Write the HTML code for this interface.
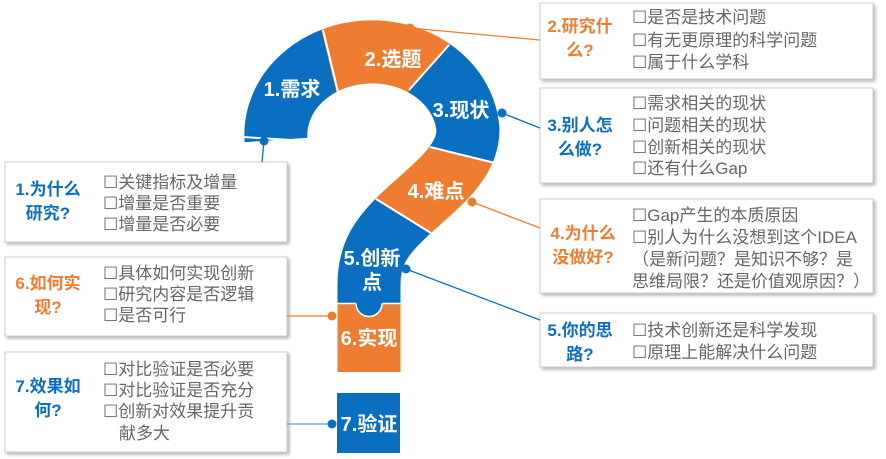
<!DOCTYPE html>
<html><head><meta charset="utf-8"><style>
html,body{margin:0;padding:0;background:#fff;width:886px;height:459px;overflow:hidden}
svg{display:block}
text{font-family:"Liberation Sans","Noto Sans CJK SC",sans-serif}
.it{font-size:17px;fill:#666}
.tb{font-size:17px;font-weight:bold;fill:#0a6fc0}
.to{font-size:17px;font-weight:bold;fill:#ee7d31}
.sl{font-size:20px;font-weight:bold;fill:#fff}
</style></head><body>
<svg width="886" height="459" viewBox="0 0 886 459">
<defs>
<filter id="sh" x="-5%" y="-5%" width="115%" height="120%"><feDropShadow dx="2" dy="2" stdDeviation="1.5" flood-color="#000" flood-opacity="0.3"/></filter>
<mask id="band" maskUnits="userSpaceOnUse" x="0" y="0" width="886" height="459">
<path d="M276,140 A96,83 0 0 1 468,130 C468,165 430,190 403,216 C380,238 369,255 369,285 L369,372" stroke="#fff" stroke-width="63" fill="none"/>
</mask>
</defs>
<g fill="#fff" stroke="#cfcfcf" stroke-width="1" filter="url(#sh)">
<rect x="540" y="3" width="333" height="76"/>
<rect x="540" y="88" width="333" height="95"/>
<rect x="540" y="199" width="333" height="94"/>
<rect x="540" y="313" width="333" height="54"/>
<rect x="5" y="162" width="282" height="80"/>
<rect x="5" y="257" width="282" height="79"/>
<rect x="5" y="352" width="282" height="100"/>
</g>
<g stroke-width="1.3" fill="none">
<line x1="410" y1="28" x2="540" y2="40" stroke="#ee7d31"/>
<line x1="502" y1="113" x2="540" y2="128" stroke="#0a6fc0"/>
<line x1="264" y1="141" x2="262" y2="162" stroke="#0a6fc0"/>
<line x1="472" y1="202" x2="540" y2="228" stroke="#ee7d31"/>
<line x1="406" y1="269" x2="540" y2="320" stroke="#0a6fc0"/>
<line x1="332" y1="316" x2="287" y2="316" stroke="#ee7d31"/>
<line x1="332" y1="424" x2="287" y2="424" stroke="#5b9bd5"/>
</g>
<g mask="url(#band)">
<rect x="200" y="0" width="400" height="400" fill="#0a6fc0"/>
<polygon points="314,0 342,115 388,115 490,0" fill="#ee7d31"/>
<polygon points="560,178 410,142 350,185 460,248 560,248" fill="#ee7d31"/>
<rect x="320" y="303" width="100" height="70" fill="#ee7d31"/>
</g>
<g stroke="#fff" stroke-width="2">
<line x1="323" y1="30" x2="338" y2="92"/>
<line x1="449" y1="45" x2="409" y2="90"/>
<line x1="499" y1="164" x2="430" y2="147"/>
<line x1="376" y1="199" x2="431" y2="233"/>
<line x1="242" y1="137" x2="308" y2="141"/>
</g>
<path d="M356,303 A13,13 0 0 0 382,303 Z" fill="#0a6fc0"/>
<path d="M356,303.5 A13,13 0 0 0 382,303.5" fill="none" stroke="#fff" stroke-width="1.5"/>
<line x1="337" y1="303.5" x2="356" y2="303.5" stroke="#fff" stroke-width="1.5"/>
<line x1="382" y1="303.5" x2="401" y2="303.5" stroke="#fff" stroke-width="1.5"/>
<rect x="337" y="393" width="63" height="60" fill="#0a6fc0"/>
<g>
<circle cx="410" cy="28" r="4.5" fill="#ee7d31"/>
<circle cx="502" cy="113" r="4.5" fill="#0a6fc0"/>
<circle cx="264" cy="141" r="4.5" fill="#0a6fc0"/>
<circle cx="472" cy="202" r="4.5" fill="#ee7d31"/>
<circle cx="406" cy="269" r="4.5" fill="#0a6fc0"/>
<circle cx="332" cy="316" r="4.5" fill="#ee7d31"/>
<circle cx="332" cy="424" r="4.5" fill="#0a6fc0"/>
</g>
<text class="sl" x="292" y="96" text-anchor="middle">1.需求</text>
<text class="sl" x="393" y="66" text-anchor="middle">2.选题</text>
<text class="sl" x="461" y="117" text-anchor="middle">3.现状</text>
<text class="sl" x="436" y="198" text-anchor="middle">4.难点</text>
<text class="sl" x="372" y="265" text-anchor="middle">5.创新</text>
<text class="sl" x="372" y="289" text-anchor="middle">点</text>
<text class="sl" x="369" y="345" text-anchor="middle">6.实现</text>
<text class="sl" x="369" y="431" text-anchor="middle">7.验证</text>
<text class="to" x="580" y="32" text-anchor="middle">2.研究什</text>
<text class="to" x="580" y="56" text-anchor="middle">么?</text>
<text class="tb" x="580" y="131" text-anchor="middle">3.别人怎</text>
<text class="tb" x="580" y="155" text-anchor="middle">么做?</text>
<text class="to" x="583" y="239" text-anchor="middle">4.为什么</text>
<text class="to" x="583" y="263" text-anchor="middle">没做好?</text>
<text class="tb" x="580" y="336" text-anchor="middle">5.你的思</text>
<text class="tb" x="580" y="360" text-anchor="middle">路?</text>
<text class="tb" x="48" y="195" text-anchor="middle">1.为什么</text>
<text class="tb" x="48" y="219" text-anchor="middle">研究?</text>
<text class="to" x="48" y="289" text-anchor="middle">6.如何实</text>
<text class="to" x="48" y="313" text-anchor="middle">现?</text>
<text class="tb" x="48" y="392" text-anchor="middle">7.效果如</text>
<text class="tb" x="48" y="416" text-anchor="middle">何?</text>
<g class="it">
<text x="632" y="23">☐是否是技术问题</text>
<text x="632" y="46">☐有无更原理的科学问题</text>
<text x="632" y="68">☐属于什么学科</text>
<text x="632" y="109">☐需求相关的现状</text>
<text x="632" y="131">☐问题相关的现状</text>
<text x="632" y="153">☐创新相关的现状</text>
<text x="632" y="174">☐还有什么Gap</text>
<text x="632" y="221">☐Gap产生的本质原因</text>
<text x="632" y="243">☐别人为什么没想到这个IDEA</text>
<text x="632" y="265">（是新问题？是知识不够？是</text>
<text x="632" y="287">思维局限？还是价值观原因？）</text>
<text x="632" y="336">☐技术创新还是科学发现</text>
<text x="632" y="358">☐原理上能解决什么问题</text>
<text x="103" y="188">☐关键指标及增量</text>
<text x="103" y="209">☐增量是否重要</text>
<text x="103" y="230">☐增量是否必要</text>
<text x="103" y="279">☐具体如何实现创新</text>
<text x="103" y="300">☐研究内容是否逻辑</text>
<text x="103" y="321">☐是否可行</text>
<text x="103" y="375">☐对比验证是否必要</text>
<text x="103" y="396">☐对比验证是否充分</text>
<text x="103" y="417">☐创新对效果提升贡</text>
<text x="119" y="439">献多大</text>
</g>
</svg>
</body></html>
